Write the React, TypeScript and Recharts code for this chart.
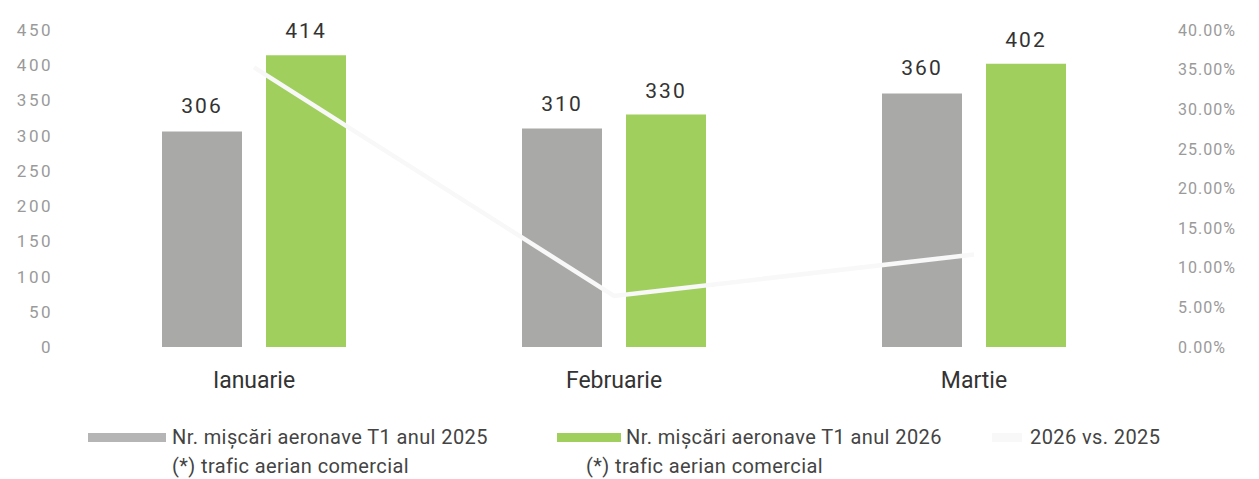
import React from 'react';
import { ComposedChart, Bar, Line, XAxis, YAxis, LabelList } from 'recharts';

const months = ['Ianuarie', 'Februarie', 'Martie'];
const moves2025 = [306, 310, 360];
const moves2026 = [414, 330, 402];
const changePct = [35.29, 6.45, 11.67];

const leftTicks = [0, 50, 100, 150, 200, 250, 300, 350, 400, 450];
const rightTicks = [0, 5, 10, 15, 20, 25, 30, 35, 40];

const seriesNames = [
    'Nr. mișcări aeronave T1 anul 2025',
    'Nr. mișcări aeronave T1 anul 2026',
    '2026 vs. 2025',
];
const footnote = '(*) trafic aerian comercial';

const GRAY = '#a9aaa8';
const GREEN = '#a0cf5e';
const LINE = '#f8f8f8';
const FONT = 'Roboto, "DejaVu Sans", sans-serif';

const data = months.map((m, i) => ({
    month: m,
    y2025: moves2025[i],
    y2026: moves2026[i],
    pct: changePct[i],
}));

const leftTick = { fill: '#9a9a9a', fontSize: 17, fontFamily: FONT, letterSpacing: 2.5 };
const rightTick = { fill: '#9a9a9a', fontSize: 16, fontFamily: FONT, letterSpacing: 1 };
const labelStyle = { fill: '#333', fontSize: 21, fontFamily: FONT, letterSpacing: 2 };

function Swatch({ left, width, color }: { left: number, width: number, color: string }) {
    return <div style={{ position: 'absolute', left, top: 433, width, height: 9, background: color }} />;
}

function LegendText({ left, top, text }: { left: number, top: number, text: string }) {
    return (
        <div style={{ position: 'absolute', left, top, fontSize: 20, lineHeight: '22px', color: '#444', whiteSpace: 'nowrap', letterSpacing: 0.4 }}>
            {text}
        </div>
    );
}

export default function App() {
    return (
        <div style={{ position: 'absolute', left: 0, top: 0, width: 1259, height: 479, background: '#fff', fontFamily: FONT }}>
            <ComposedChart
                width={1259}
                height={400}
                data={data}
                margin={{ top: 30, right: 0, bottom: 0, left: 0 }}
                barGap={24}
            >
                <XAxis
                    dataKey="month"
                    axisLine={false}
                    tickLine={false}
                    tickSize={0}
                    tickMargin={25}
                    height={53}
                    tick={{ fill: '#333', fontSize: 23, fontFamily: FONT }}
                />
                <YAxis
                    yAxisId="left"
                    domain={[0, 450]}
                    ticks={leftTicks}
                    interval={0}
                    width={74}
                    axisLine={false}
                    tickLine={false}
                    tickSize={0}
                    tickMargin={21}
                    tick={leftTick}
                />
                <YAxis
                    yAxisId="right"
                    orientation="right"
                    domain={[0, 40]}
                    ticks={rightTicks}
                    interval={0}
                    width={105}
                    axisLine={false}
                    tickLine={false}
                    tickSize={0}
                    tickMargin={24}
                    tick={rightTick}
                    tickFormatter={(v: number) => `${v.toFixed(2)}%`}
                />
                <Bar yAxisId="left" dataKey="y2025" name={seriesNames[0]} fill={GRAY} barSize={80} isAnimationActive={false}>
                    <LabelList dataKey="y2025" position="top" offset={18} style={labelStyle} />
                </Bar>
                <Bar yAxisId="left" dataKey="y2026" name={seriesNames[1]} fill={GREEN} barSize={80} isAnimationActive={false}>
                    <LabelList dataKey="y2026" position="top" offset={17} style={labelStyle} />
                </Bar>
                <Line
                    yAxisId="right"
                    dataKey="pct"
                    name={seriesNames[2]}
                    type="linear"
                    stroke={LINE}
                    strokeWidth={4.5}
                    dot={false}
                    activeDot={false}
                    isAnimationActive={false}
                />
            </ComposedChart>

            <Swatch left={88} width={78} color="#b4b5b4" />
            <LegendText left={172} top={426} text={seriesNames[0]} />
            <LegendText left={172} top={455} text={footnote} />

            <Swatch left={557} width={64} color={GREEN} />
            <LegendText left={626} top={426} text={seriesNames[1]} />
            <LegendText left={586} top={455} text={footnote} />

            <Swatch left={992} width={30} color={LINE} />
            <LegendText left={1030} top={426} text={seriesNames[2]} />
        </div>
    );
}
